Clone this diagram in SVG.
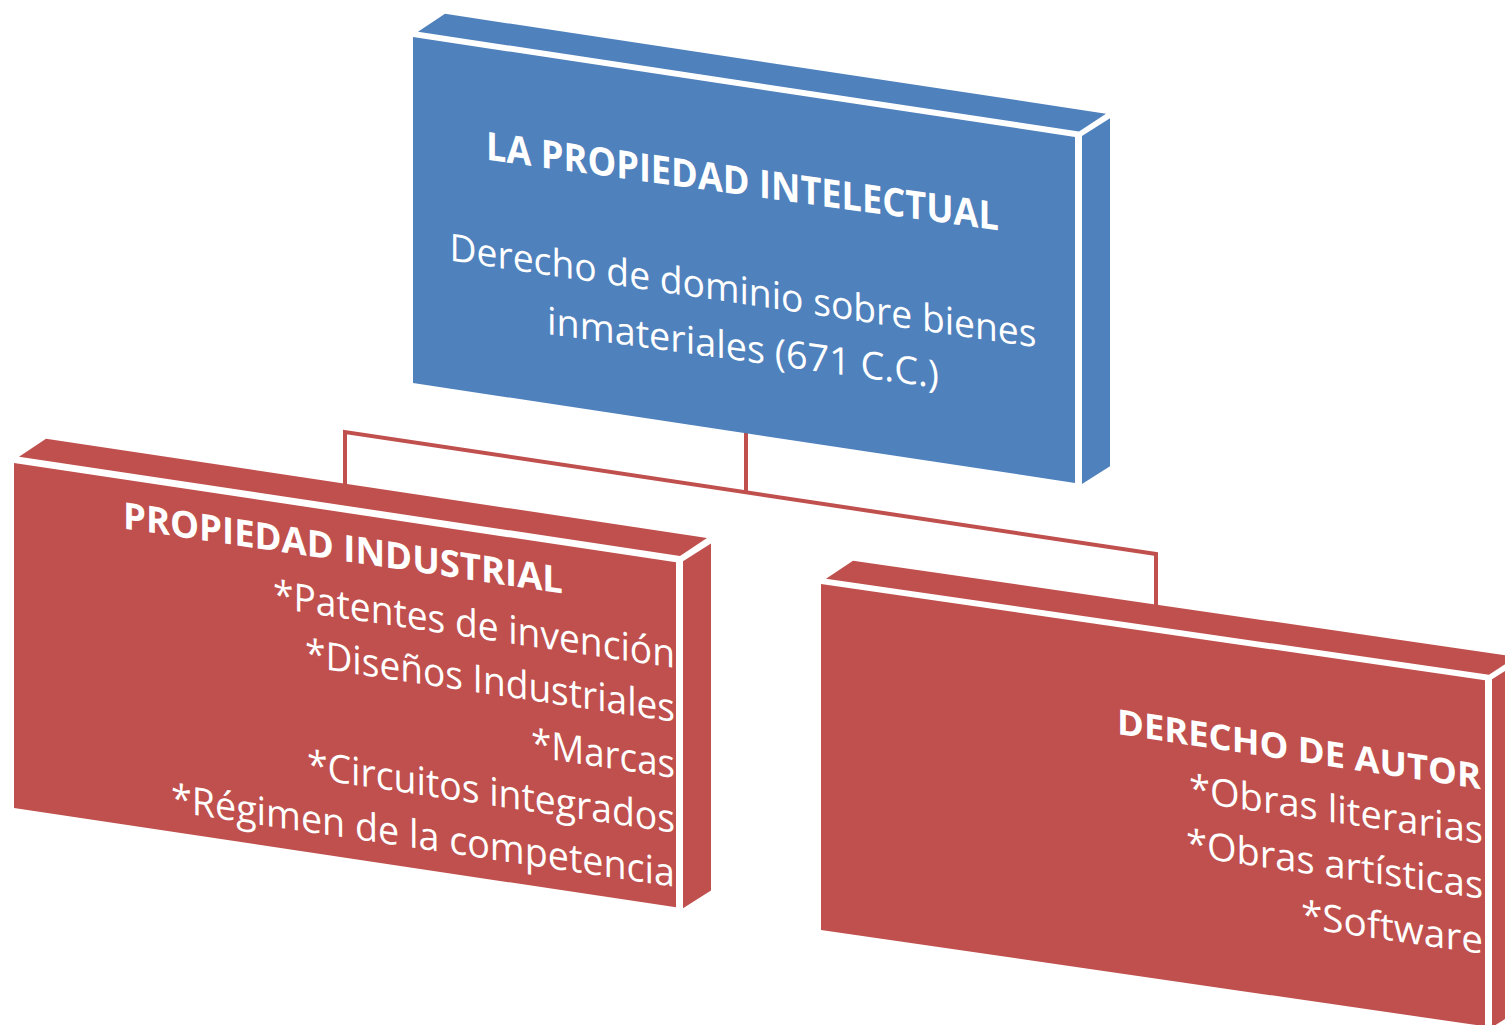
<svg xmlns="http://www.w3.org/2000/svg" width="1505" height="1025" viewBox="0 0 1505 1025">
<style>
.blue{fill:#4f81bd}
.red{fill:#c0504d}
.t{fill:#ffffff;font-family:"Open Sans","Liberation Sans",sans-serif}
.b{font-weight:bold}
.conn{fill:none;stroke:#c0504d;stroke-width:4}
</style>
<rect x="0" y="0" width="1505" height="1025" fill="#ffffff"/>
<g id="connectors">
<path class="conn" d="M345,484 V432 L1156,554 V605"/>
<path class="conn" d="M746,433 V492"/>
</g>
<g id="node-propiedad-intelectual">
<g class="blue" transform="matrix(1,0.151,0,1,413,37)">
<rect x="0" y="0" width="662" height="346"/>
<polygon points="5,-6 666,-6 693,-28 32,-28"/>
<polygon points="669,-2 697,-24 697,324 669,346"/>
</g>
<text class="t b" font-size="39" text-anchor="middle" textLength="513" lengthAdjust="spacingAndGlyphs" transform="matrix(1,0.138,0,1,742.5,195)">LA PROPIEDAD INTELECTUAL</text>
<text class="t" font-size="38" text-anchor="middle" textLength="587" lengthAdjust="spacingAndGlyphs" transform="matrix(1,0.148,0,1,743,304)">Derecho de dominio sobre bienes</text>
<text class="t" font-size="38" text-anchor="middle" textLength="392" lengthAdjust="spacingAndGlyphs" transform="matrix(1,0.138,0,1,743,361)">inmateriales (671 C.C.)</text>
</g>
<g id="node-propiedad-industrial">
<g class="red" transform="matrix(1,0.150,0,1,14,463)">
<rect x="0" y="0" width="662" height="345"/>
<polygon points="5,-7 666,-7 693,-29 32,-29"/>
<polygon points="669,-2 697,-24 697,323 669,345"/>
</g>
<text class="t b" font-size="37" text-anchor="middle" textLength="440" lengthAdjust="spacingAndGlyphs" transform="matrix(1,0.148,0,1,343,561)">PROPIEDAD INDUSTRIAL</text>
<text class="t" font-size="39" text-anchor="end" textLength="402" lengthAdjust="spacingAndGlyphs" transform="matrix(1,0.15,0,1,675,668)">*Patentes de invención</text>
<text class="t" font-size="39" text-anchor="end" textLength="370" lengthAdjust="spacingAndGlyphs" transform="matrix(1,0.15,0,1,675,722)">*Diseños Industriales</text>
<text class="t" font-size="39" text-anchor="end" textLength="144" lengthAdjust="spacingAndGlyphs" transform="matrix(1,0.15,0,1,675,778)">*Marcas</text>
<text class="t" font-size="39" text-anchor="end" textLength="368" lengthAdjust="spacingAndGlyphs" transform="matrix(1,0.15,0,1,675,833)">*Circuitos integrados</text>
<text class="t" font-size="39" text-anchor="end" textLength="504" lengthAdjust="spacingAndGlyphs" transform="matrix(1,0.15,0,1,675,887)">*Régimen de la competencia</text>
</g>
<g id="node-derecho-de-autor">
<g class="red" transform="matrix(1,0.145,0,1,821,584)">
<rect x="0" y="0" width="664" height="346"/>
<polygon points="5,-6 668,-6 695,-28 32,-28"/>
<polygon points="671,-2 699,-24 699,324 671,346"/>
</g>
<text class="t b" font-size="35" text-anchor="end" textLength="364" lengthAdjust="spacingAndGlyphs" transform="matrix(1,0.151,0,1,1481,789)">DERECHO DE AUTOR</text>
<text class="t" font-size="38" text-anchor="end" textLength="294" lengthAdjust="spacingAndGlyphs" transform="matrix(1,0.145,0,1,1483,844)">*Obras literarias</text>
<text class="t" font-size="38" text-anchor="end" textLength="297" lengthAdjust="spacingAndGlyphs" transform="matrix(1,0.145,0,1,1483,899)">*Obras artísticas</text>
<text class="t" font-size="38" text-anchor="end" textLength="182" lengthAdjust="spacingAndGlyphs" transform="matrix(1,0.145,0,1,1483,954)">*Software</text>
</g>
</svg>
